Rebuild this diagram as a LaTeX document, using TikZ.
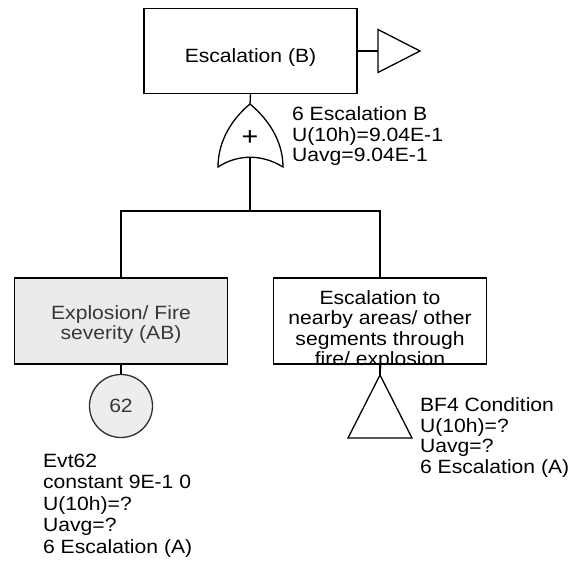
\documentclass[tikz,border=0pt]{standalone}
\usepackage{fontspec}
\setmainfont{Liberation Sans}[FakeStretch=1.1]
\definecolor{boxgray}{HTML}{EBEBEB}
\definecolor{circgray}{HTML}{EDEDED}
\definecolor{textgray}{HTML}{383838}
\definecolor{rimgray}{HTML}{303030}
% stacked lines whose baseline is the first line
\newcommand{\ftlinesc}[1]{\begin{tabular}[t]{@{}c@{}}#1\end{tabular}}
\newcommand{\ftlinesl}[1]{\begin{tabular}[t]{@{}l@{}}#1\end{tabular}}
\begin{document}
\begin{tikzpicture}[x=1pt,y=-1pt,line width=1.3pt,
  every node/.style={font=\fontsize{19.2}{20.5}\selectfont},
  box/.style={draw,rectangle,minimum width=213pt,minimum height=85pt,inner sep=0pt},
  note/.style={anchor=base west,inner sep=0pt}]
\useasboundingbox (0,0) rectangle (573,572);

% top event and its transfer triangle
\node[box,text height=30pt,text depth=7.4pt] (top) at (250.5,51) {\ftlinesc{Escalation (B)}};
\coordinate (xfer) at (378,51);
\draw (top.east) -- (xfer);
\draw (xfer) -- ++(0,-21.5) -- (420,51) -- (378,72.5) -- cycle;

% OR gate
\coordinate (gtop) at (250,104);
\coordinate (gbot) at (250,158.3);
\draw[fill=white] (gtop) .. controls (233,118) and (218,140) .. (218,167)
  .. controls (238,154) and (262,154) .. (283,167)
  .. controls (283,140) and (267,118) .. (gtop) -- cycle;
\node[font=\fontsize{26}{26}\selectfont,inner sep=0pt] (gplus) at (250,137.5) {+};
\draw (top.south) -- (gtop);
\node[note] (gnote) at (291.5,120.7) {\ftlinesl{6 Escalation B\\U(10h)=9.04E-1\\Uavg=9.04E-1}};

% children
\node[box,fill=boxgray,text=textgray,minimum height=86pt,text height=20pt,text depth=23.4pt] (left) at (121,321)
  {\ftlinesc{Explosion/ Fire\\severity (AB)}};
\node[box,minimum height=86pt,text height=10pt,text depth=43pt] (right) at (380,321)
  {\ftlinesc{Escalation to\\nearby areas/ other\\segments through\\fire/ explosion}};
\coordinate (bar) at (250,211);
\draw (gbot) -- (bar);
\draw (left.north) |- (bar) -| (right.north);

% basic event 62
\node[circle,draw=rimgray,line width=1.3pt,fill=circgray,text=textgray,minimum size=63pt,inner sep=0pt] (e62) at (121,406) {62};
\draw (left.south) -- (e62.north);
\node[note,font=\fontsize{19.2}{21.6}\selectfont] (enote) at (42.5,467)
  {\ftlinesl{Evt62\\constant 9E-1 0\\U(10h)=?\\Uavg=?\\6 Escalation (A)}};

% condition BF4
\coordinate (bf4) at (380,375);
\draw (right.south) -- (bf4);
\draw (bf4) -- (412,438) -- (348,438) -- cycle;
\node[note] (bnote) at (419.5,411.7) {\ftlinesl{BF4 Condition\\U(10h)=?\\Uavg=?\\6 Escalation (A)}};
\end{tikzpicture}
\end{document}
